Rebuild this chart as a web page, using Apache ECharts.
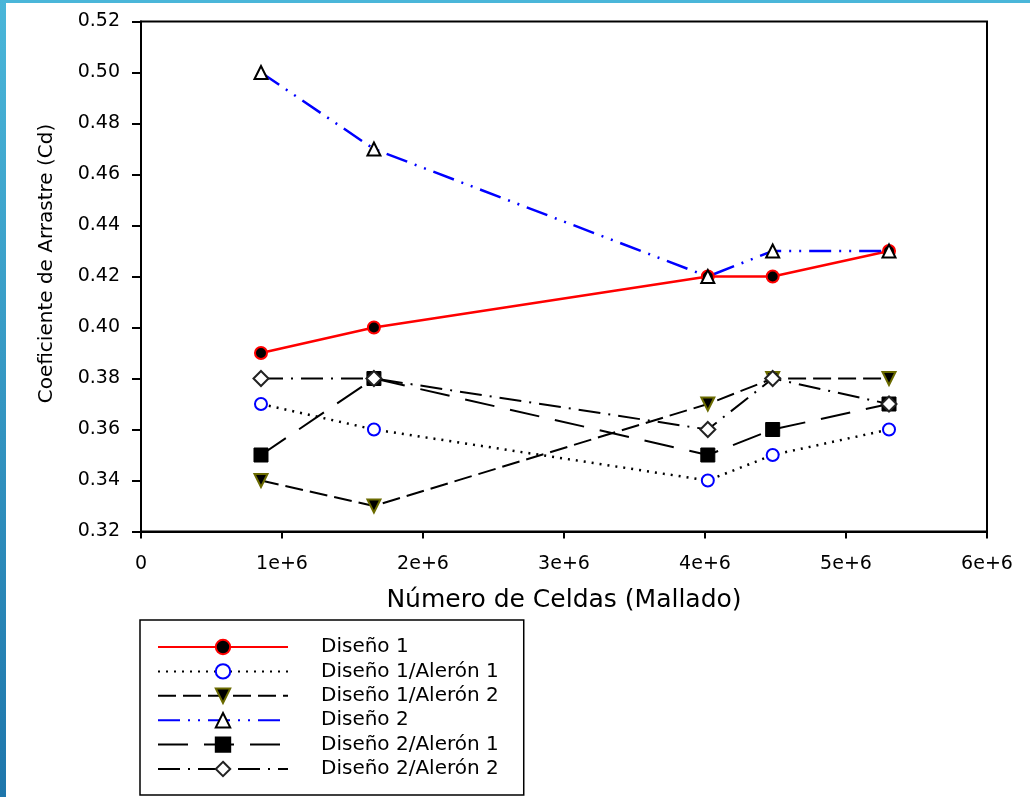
<!DOCTYPE html>
<html><head><meta charset="utf-8">
<script src="https://cdn.jsdelivr.net/npm/echarts@6/dist/echarts.min.js"></script>
<style>html,body{margin:0;padding:0;background:#fff;}#c{width:1030px;height:797px;}</style>
</head><body><div id="c"></div>
<script>
const xCells = [851000, 1652000, 4020000, 4480000, 5305000];
const seriesNames = ['Diseño 1','Diseño 1/Alerón 1','Diseño 1/Alerón 2','Diseño 2','Diseño 2/Alerón 1','Diseño 2/Alerón 2'];
const d1   = [0.39, 0.40, 0.42, 0.42, 0.43];
const d1a1 = [0.37, 0.36, 0.34, 0.35, 0.36];
const d1a2 = [0.34, 0.33, 0.37, 0.38, 0.38];
const d2   = [0.50, 0.47, 0.42, 0.43, 0.43];
const d2a1 = [0.35, 0.38, 0.35, 0.36, 0.37];
const d2a2 = [0.38, 0.38, 0.36, 0.38, 0.37];
const xTicks = ['0','1e+6','2e+6','3e+6','4e+6','5e+6','6e+6'];
const xTitle = 'Número de Celdas (Mallado)';
const yTitle = 'Coeficiente de Arrastre (Cd)';

const pairs = v => xCells.map((x,i)=>[x, v[i]]);
const font = '"DejaVu Sans", Arial, sans-serif';

const chart = echarts.init(document.getElementById('c'));
const mk = (name, data, line, sym) => Object.assign({
  name, type:'line', data: pairs(data), symbolSize: 12, z: 3,
  lineStyle: line, emphasis:{disabled:true}
}, sym);

chart.setOption({
  animation:false,
  backgroundColor:'#fff',
  graphic:[
    {type:'rect', shape:{x:0,y:0,width:1030,height:3}, style:{fill:'#4ab6d9'}, z:100},
    {type:'rect', shape:{x:0,y:0,width:6,height:797}, style:{fill:new echarts.graphic.LinearGradient(0,0,0,1,[{offset:0,color:'#4ab6d9'},{offset:1,color:'#1e76ab'}])}, z:100}
  ],
  grid:{left:141, top:21.5, width:846, height:510, show:true, borderColor:'#000', borderWidth:2, backgroundColor:'transparent'},
  xAxis:{type:'value', min:0, max:6e6, interval:1e6,
    name:xTitle, nameLocation:'middle', nameGap:56,
    nameTextStyle:{fontFamily:font, fontSize:25, color:'#000'},
    axisLine:{show:true, lineStyle:{color:'#000', width:2}},
    axisTick:{show:true, inside:false, length:7, lineStyle:{color:'#000', width:2}},
    axisLabel:{fontFamily:font, fontSize:19, color:'#000', margin:23,
      formatter:(v)=>xTicks[Math.round(v/1e6)]},
    splitLine:{show:false}},
  yAxis:{type:'value', min:0.32, max:0.52, interval:0.02,
    name:yTitle, nameLocation:'middle', nameGap:84,
    nameTextStyle:{fontFamily:font, fontSize:20, color:'#000', padding:[0,0,0,26]},
    axisLine:{show:true, lineStyle:{color:'#000', width:2}},
    axisTick:{show:true, inside:false, length:9, lineStyle:{color:'#000', width:2}},
    axisLabel:{fontFamily:font, fontSize:19, color:'#000', margin:21,
      formatter:(v)=>v.toFixed(2)},
    splitLine:{show:false}},
  legend:{
    orient:'vertical', left:140, top:620,
    data:seriesNames,
    itemWidth:130, itemHeight:18, itemGap:0.4,
    borderColor:'#000', borderWidth:1.5,
    padding:[15,25,14,17],
    textStyle:{fontFamily:font, fontSize:20, color:'#000', lineHeight:24, padding:[0,0,0,28]},
    selectedMode:false
  },
  series:[
    mk(seriesNames[0], d1, {color:'#ff0000', width:2.5, type:'solid'},
       {symbol:'circle', itemStyle:{color:'#000', borderColor:'#ff0000', borderWidth:2}, color:'#ff0000'}),
    mk(seriesNames[1], d1a1, {color:'#000', width:2.5, type:[2,6]},
       {symbol:'circle', symbolSize:12, itemStyle:{color:'#fff', borderColor:'#0000ff', borderWidth:2}}),
    mk(seriesNames[2], d1a2, {color:'#000', width:2, type:[18,7]},
       {symbol:'triangle', symbolRotate:180, symbolSize:13, itemStyle:{color:'#000', borderColor:'#6b6b00', borderWidth:2}}),
    mk(seriesNames[3], d2, {color:'#0000ff', width:2.5, type:[22,8,2,8,2,8]},
       {symbol:'triangle', symbolSize:13, itemStyle:{color:'#fff', borderColor:'#000', borderWidth:2}}),
    mk(seriesNames[4], d2a1, {color:'#000', width:2, type:[30,16]},
       {symbol:'rect', symbolSize:14, itemStyle:{color:'#000', borderColor:'#000', borderWidth:1}}),
    mk(seriesNames[5], d2a2, {color:'#000', width:2, type:[22,8,2,8]},
       {symbol:'diamond', symbolSize:15, itemStyle:{color:'#fff', borderColor:'#222', borderWidth:2}})
  ]
});
</script></body></html>
